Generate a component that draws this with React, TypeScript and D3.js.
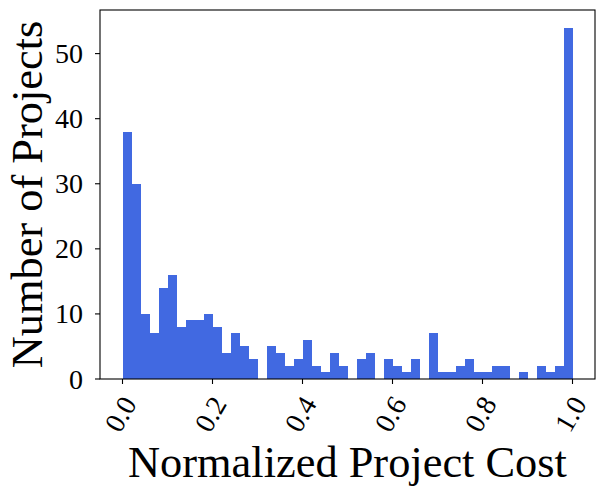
import { scaleLinear } from "d3";

// histogram counts, 50 bins over [0, 1]
const counts = [
  38, 30, 10, 7, 14, 16, 8, 9, 9, 10, 8, 4, 7, 5, 3, 0,
  5, 4, 2, 3, 6, 2, 1, 4, 2, 0, 3, 4, 0, 3, 2, 1, 3, 0,
  7, 1, 1, 2, 3, 1, 1, 2, 2, 0, 1, 0, 2, 1, 2, 54,
];
const binStart = 0;
const binEnd = 1;
const xTicks = [0, 0.2, 0.4, 0.6, 0.8, 1.0];
const xTickLabels = ["0.0", "0.2", "0.4", "0.6", "0.8", "1.0"];
const yTicks = [0, 10, 20, 30, 40, 50];

const W = 605;
const H = 496;
const PLOT = { left: 100, right: 595, top: 10, bottom: 379 };
const FONT = "Times New Roman, Liberation Serif, Times, serif";
const BAR_COLOR = "#4169e1";

export default function App() {
  const binWidth = (binEnd - binStart) / counts.length;
  const maxCount = Math.max(...counts);

  const x = scaleLinear()
    .domain([binStart - 0.05, binEnd + 0.05])
    .range([PLOT.left, PLOT.right]);
  const y = scaleLinear()
    .domain([0, maxCount * 1.05])
    .range([PLOT.bottom, PLOT.top]);

  return (
    <svg
      width={W}
      height={H}
      viewBox={`0 0 ${W} ${H}`}
      style={{ position: "absolute", left: 0, top: 0, background: "#fff", fontFamily: FONT }}
    >
      <rect x={0} y={0} width={W} height={H} fill="#fff" />
      {counts.map((c, i) => {
        const x0 = x(binStart + i * binWidth);
        const x1 = x(binStart + (i + 1) * binWidth);
        return c > 0 ? (
          <rect
            key={i}
            x={x0}
            y={y(c)}
            width={x1 - x0}
            height={y(0) - y(c)}
            fill={BAR_COLOR}
            shapeRendering="crispEdges"
          />
        ) : null;
      })}

      <rect
        x={PLOT.left}
        y={PLOT.top}
        width={PLOT.right - PLOT.left}
        height={PLOT.bottom - PLOT.top}
        fill="none"
        stroke="#000"
        strokeWidth={1.1}
      />

      {xTicks.map((t, i) => (
        <g key={t}>
          <line x1={x(t)} x2={x(t)} y1={PLOT.bottom} y2={PLOT.bottom + 5} stroke="#000" strokeWidth={1.1} />
          <text
            transform={`translate(${x(t) - 2},${414}) rotate(-60)`}
            textAnchor="middle"
            dominantBaseline="central"
            fontSize={28}
            fill="#000"
          >
            {xTickLabels[i]}
          </text>
        </g>
      ))}

      {yTicks.map((t) => (
        <g key={t}>
          <line x1={PLOT.left - 5} x2={PLOT.left} y1={y(t)} y2={y(t)} stroke="#000" strokeWidth={1.1} />
          <text
            x={PLOT.left - 17}
            y={y(t)}
            textAnchor="end"
            dominantBaseline="central"
            fontSize={28}
            fill="#000"
          >
            {t}
          </text>
        </g>
      ))}

      <text
        x={(PLOT.left + PLOT.right) / 2}
        y={477}
        textAnchor="middle"
        fontSize={44.4}
        fill="#000"
      >
        Normalized Project Cost
      </text>
      <text
        transform={`translate(42,${(PLOT.top + PLOT.bottom) / 2}) rotate(-90)`}
        textAnchor="middle"
        fontSize={44.4}
        fill="#000"
      >
        Number of Projects
      </text>
    </svg>
  );
}
